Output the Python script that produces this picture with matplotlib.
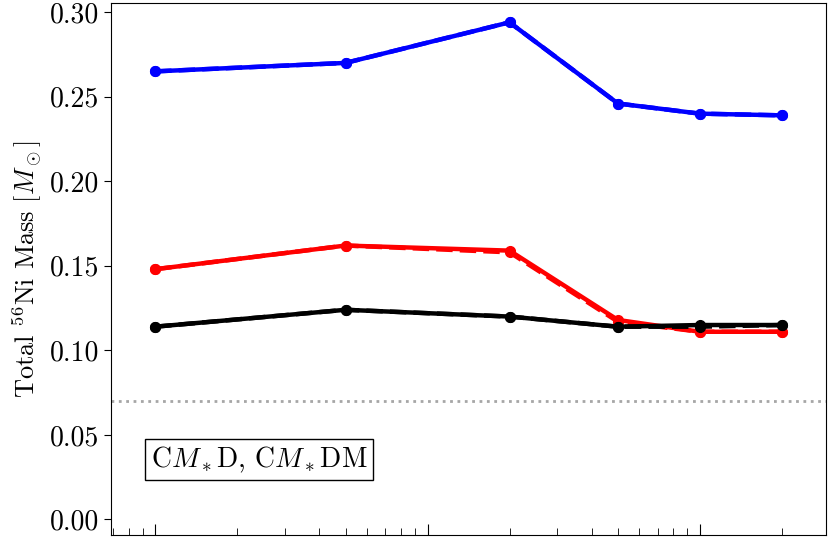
import numpy as np
import matplotlib
matplotlib.use("Agg")
import matplotlib.pyplot as plt

plt.rcParams["font.family"] = "serif"
plt.rcParams["font.serif"] = ["cmr10"]
plt.rcParams["mathtext.fontset"] = "cm"
plt.rcParams["axes.formatter.use_mathtext"] = True

# x positions (log scale, no labels visible in reference)
x = [1, 5, 20, 50, 100, 200]

# solid series
blue_solid = [0.265, 0.270, 0.294, 0.246, 0.240, 0.239]
red_solid = [0.148, 0.162, 0.159, 0.118, 0.111, 0.111]
black_solid = [0.114, 0.124, 0.120, 0.114, 0.115, 0.115]

# dashed series (nearly identical)
blue_dash = [0.265, 0.270, 0.294, 0.246, 0.240, 0.239]
red_dash = [0.148, 0.162, 0.158, 0.117, 0.111, 0.111]
black_dash = [0.114, 0.124, 0.120, 0.114, 0.114, 0.115]

fig = plt.figure(figsize=(8.3, 5.39), dpi=100)
ax = fig.add_axes([0.134, 0.008, 0.861, 0.986])

for ys, yd, c in [(blue_solid, blue_dash, "blue"),
                  (red_solid, red_dash, "red"),
                  (black_solid, black_dash, "black")]:
    ax.plot(x, ys, color=c, linewidth=3.2, marker="o", markersize=7)
    ax.plot(x, yd, color=c, linewidth=3.2, linestyle="--", marker="o", markersize=7)

ax.axhline(0.07, color="gray", linestyle=":", linewidth=2, alpha=0.7)

ax.set_xscale("log")
ax.set_xlim(0.69, 290)
ax.set_ylim(-0.009, 0.3053)
ax.set_yticks([0.0, 0.05, 0.10, 0.15, 0.20, 0.25, 0.30])
ax.set_yticklabels(["0.00", "0.05", "0.10", "0.15", "0.20", "0.25", "0.30"])
ax.tick_params(axis="y", labelsize=20, length=5)
ax.tick_params(axis="x", which="both", direction="in", labelbottom=False)
ax.tick_params(axis="x", which="major", length=8)
ax.tick_params(axis="x", which="minor", length=5)

ax.set_ylabel(r"Total $^{56}$Ni Mass $[M_\odot]$", fontsize=19)

ax.text(0.055, 0.141, r"C$M_*$D, C$M_*$DM", transform=ax.transAxes, fontsize=20,
        ha="left", va="center",
        bbox=dict(boxstyle="square,pad=0.2", facecolor="white", edgecolor="black"))

fig.savefig("out.png", dpi=100)
